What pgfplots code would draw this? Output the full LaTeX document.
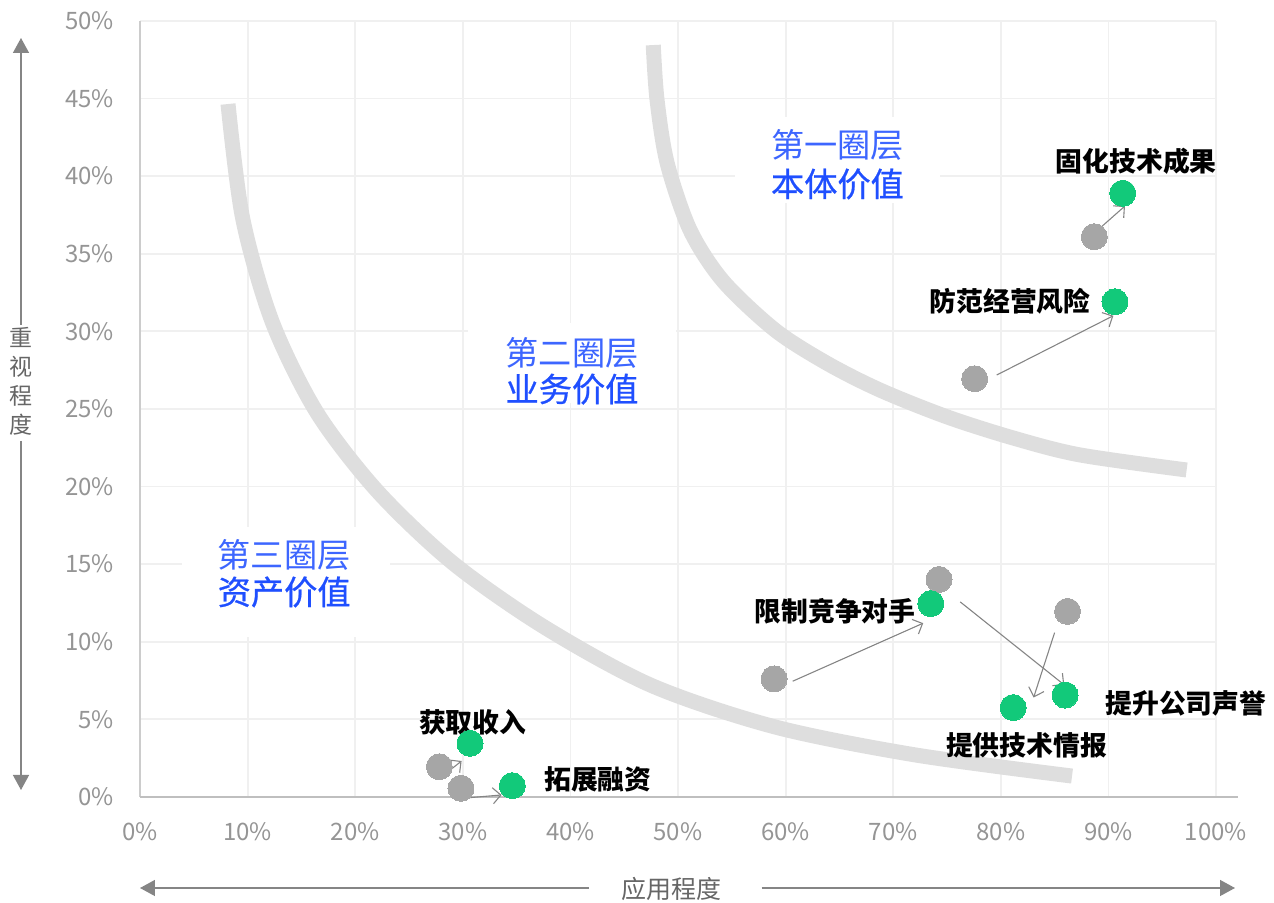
\documentclass[border=0pt]{standalone}
\usepackage{pgfplots}
\pgfplotsset{compat=1.18}
\usepackage{fontspec}
\setmainfont{Noto Sans CJK SC}
\newfontfamily\cjkmed[FakeBold=0.7]{Noto Sans CJK SC}
\usetikzlibrary{arrows.meta}
\definecolor{ptgreen}{HTML}{12C97A}
\definecolor{ptgray}{HTML}{A6A6A6}
\definecolor{arcgray}{HTML}{DEDEDE}
\definecolor{lblblue}{HTML}{1F4FFF}
\definecolor{lblbluel}{HTML}{3D66FF}
\definecolor{gridc}{HTML}{F0F0F0}
\definecolor{tickc}{HTML}{959595}
\definecolor{arrc}{HTML}{858585}

\pgfplotstableread{
x y
8.18 44.65
9.54 37.29
12.29 30.61
16.44 24.77
22.04 19.72
29.07 15.08
37.57 10.95
47.55 7.18
59.04 4.51
72.06 2.71
86.62 1.35
}\arcthree

\pgfplotstableread{
x y
47.70 48.45
48.05 44.93
48.99 40.85
51.12 36.53
54.18 33.25
59.01 30.09
63.81 27.96
68.77 26.22
74.97 24.50
81.16 23.13
87.36 22.04
97.27 21.07
}\arcone

\pgfplotstableread{
x y
88.69 36.10
77.57 26.95
58.93 7.61
74.26 14.02
86.20 11.96
27.82 1.95
29.83 0.56
}\before

\pgfplotstableread{
x y
91.33 38.90
90.61 31.91
73.50 12.46
85.97 6.57
81.15 5.76
30.67 3.46
34.60 0.73
}\after

\begin{document}
\begin{tikzpicture}
\useasboundingbox (-70pt,-53pt) rectangle (567pt,398.5pt);
\begin{axis}[
  at={(0,0)}, anchor=south west,
  scale only axis, width=538pt, height=388pt,
  xmin=0, xmax=100, ymin=0, ymax=50,
  xtick={0,10,...,100}, ytick={0,5,...,50},
  xticklabel={\pgfmathprintnumber{\tick}\%},
  yticklabel={\pgfmathprintnumber{\tick}\%},
  /pgf/number format/assume math mode=true,
  tick style={draw=none},
  major tick length=0pt,
  ticklabel style={font=\fontsize{12}{14}\selectfont, text=tickc},
  yticklabel style={anchor=east, xshift=-9.5pt},
  xticklabel style={anchor=center, yshift=-17.3pt},
  grid=major, major grid style={gridc, line width=0.9pt},
  axis line style={draw=none},
  clip=false,
]
% white boxes behind the region labels
\fill[white] (axis cs:55.3,43.8) rectangle (axis cs:74.35,38.3);
\fill[white] (axis cs:30.5,30.54) rectangle (axis cs:49.8,25.4);
\fill[white] (axis cs:3.9,17.4) rectangle (axis cs:23.2,10.3);
% axis lines
\draw[black!20, line width=0.6pt] (axis cs:0,0) -- (axis cs:0,50);
\draw[black!25, line width=1pt] (axis cs:0,0) -- (axis cs:102,0);
% arcs
\addplot[smooth, arcgray, line width=7.5pt, line cap=butt] table {\arcthree};
\addplot[smooth, arcgray, line width=7.5pt, line cap=butt] table {\arcone};
% arrows
\begin{scope}[arrc, line width=0.55pt, -{Straight Barb[length=4pt,width=8pt]}]
\draw (axis cs:89.37,36.75) -- (axis cs:91.54,38.08);
\draw (axis cs:79.62,27.19) -- (axis cs:90.46,31.01);
\draw (axis cs:60.66,7.46) -- (axis cs:72.79,11.20);
\draw (axis cs:76.23,12.57) -- (axis cs:85.90,7.22);
\draw (axis cs:85.00,10.59) -- (axis cs:83.05,6.41);
\draw (axis cs:28.04,1.31) -- (axis cs:29.89,2.32);
\draw (axis cs:30.67,-0.04) -- (axis cs:33.61,0.13);
\end{scope}
% points
\addplot[only marks, mark=*, mark size=6.5pt, color=ptgray, mark options={solid, draw=ptgray, fill=ptgray, line width=0pt}] table {\before};
\addplot[only marks, mark=*, mark size=6.5pt, color=ptgreen, mark options={solid, draw=ptgreen, fill=ptgreen, line width=0pt}] table {\after};
% point labels
\begin{scope}[every node/.style={font=\bfseries\fontsize{13.4}{15}\selectfont, text=black}]
\node at (axis cs:92.6,40.95) {固化技术成果};
\node at (axis cs:80.86,31.97) {防范经营风险};
\node at (axis cs:64.6,11.96) {限制竞争对手};
\node at (axis cs:97.2,6.03) {提升公司声誉};
\node at (axis cs:82.38,3.32) {提供技术情报};
\node at (axis cs:30.92,4.80) {获取收入};
\node at (axis cs:42.55,1.10) {拓展融资};
\end{scope}
% region labels
\begin{scope}[every node/.style={font=\fontsize{16.6}{19}\selectfont}]
\node[text=lblbluel] at (axis cs:64.82,42.01) {第一圈层};
\node[text=lblblue] at (axis cs:64.82,39.50) {\cjkmed 本体价值};
\node[text=lblbluel] at (axis cs:40.15,28.63) {第二圈层};
\node[text=lblblue] at (axis cs:40.15,26.28) {\cjkmed 业务价值};
\node[text=lblbluel] at (axis cs:13.40,15.59) {第三圈层};
\node[text=lblblue] at (axis cs:13.40,13.21) {\cjkmed 资产价值};
\end{scope}
\end{axis}
% axis direction arrows
\begin{scope}[arrc, line width=0.7pt]
\draw[-{Triangle[length=7.5pt,width=8pt]}] (-59.5pt,236pt) -- (-59.5pt,379.5pt);
\draw[-{Triangle[length=7.5pt,width=8pt]}] (-59.5pt,178pt) -- (-59.5pt,3.5pt);
\draw[-{Triangle[length=7.5pt,width=8pt]}] (224.5pt,-45.5pt) -- (0pt,-45.5pt);
\draw[-{Triangle[length=7.5pt,width=8pt]}] (310.75pt,-45.5pt) -- (547.5pt,-45.5pt);
\end{scope}
\node[text=black!60, font=\fontsize{11.5}{14.5}\selectfont, align=center, inner sep=0pt] at (-59.5pt,207.75pt) {重\\视\\程\\度};
\node[text=black!60, font=\fontsize{12.5}{14}\selectfont] at (265.5pt,-46pt) {应用程度};
\end{tikzpicture}
\end{document}
